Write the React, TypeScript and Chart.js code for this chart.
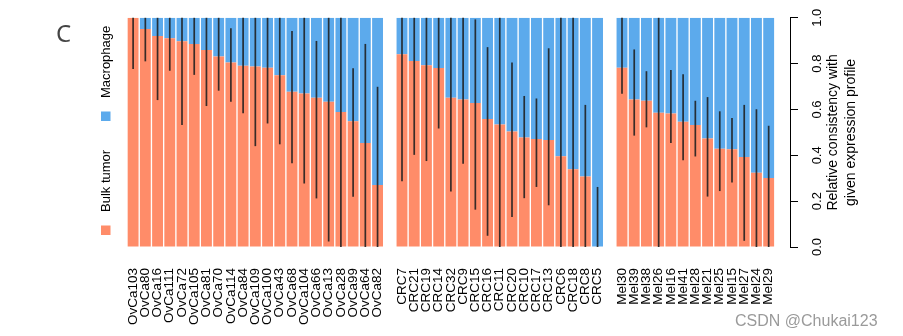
import React, { useEffect, useRef } from 'react';
import { Chart, registerables } from 'chart.js';

Chart.register(...registerables);

const ovcaLabels = ['OvCa103', 'OvCa80', 'OvCa16', 'OvCa111', 'OvCa72', 'OvCa105', 'OvCa81', 'OvCa70', 'OvCa114', 'OvCa84', 'OvCa109', 'OvCa100', 'OvCa43', 'OvCa68', 'OvCa104', 'OvCa66', 'OvCa13', 'OvCa28', 'OvCa99', 'OvCa64', 'OvCa82'];
const ovcaBulk = [1.0, 0.951, 0.921, 0.911, 0.898, 0.886, 0.859, 0.831, 0.805, 0.791, 0.788, 0.782, 0.749, 0.677, 0.67, 0.651, 0.634, 0.589, 0.549, 0.454, 0.271];
const ovcaMacro = [0.0, 0.049, 0.079, 0.089, 0.102, 0.114, 0.141, 0.169, 0.195, 0.209, 0.212, 0.218, 0.251, 0.323, 0.33, 0.349, 0.366, 0.411, 0.451, 0.546, 0.729];
const ovcaErrLow = [0.777, 0.81, 0.641, 0.769, 0.532, 0.751, 0.615, 0.682, 0.634, 0.584, 0.44, 0.539, 0.448, 0.365, 0.277, 0.212, 0.024, 0.0, 0.219, 0.0, 0.0];
const ovcaErrHigh = [1.0, 1.0, 1.0, 1.0, 1.0, 1.0, 1.0, 1.0, 0.954, 1.0, 1.0, 1.0, 1.0, 0.942, 1.0, 0.899, 1.0, 1.0, 0.78, 0.886, 0.699];

const crcLabels = ['CRC7', 'CRC21', 'CRC19', 'CRC14', 'CRC32', 'CRC9', 'CRC15', 'CRC16', 'CRC11', 'CRC20', 'CRC10', 'CRC17', 'CRC13', 'CRC6', 'CRC18', 'CRC8', 'CRC5'];
const crcBulk = [0.841, 0.811, 0.793, 0.781, 0.651, 0.644, 0.628, 0.558, 0.535, 0.504, 0.478, 0.471, 0.467, 0.396, 0.339, 0.308, 0.0];
const crcMacro = [0.159, 0.189, 0.207, 0.219, 0.349, 0.356, 0.372, 0.442, 0.465, 0.496, 0.522, 0.529, 0.533, 0.604, 0.661, 0.692, 1.0];
const crcErrLow = [0.287, 0.402, 0.375, 0.517, 0.242, 0.363, 0.163, 0.049, 0.0, 0.131, 0.213, 0.262, 0.182, 0.0, 0.0, 0.0, 0.0];
const crcErrHigh = [1.0, 1.0, 1.0, 1.0, 1.0, 1.0, 0.993, 0.872, 1.0, 0.805, 0.659, 0.648, 0.867, 1.0, 1.0, 0.62, 0.262];

const melLabels = ['Mel30', 'Mel39', 'Mel38', 'Mel26', 'Mel16', 'Mel41', 'Mel28', 'Mel21', 'Mel25', 'Mel15', 'Mel27', 'Mel24', 'Mel29'];
const melBulk = [0.782, 0.644, 0.638, 0.586, 0.582, 0.546, 0.532, 0.473, 0.429, 0.427, 0.393, 0.324, 0.301];
const melMacro = [0.218, 0.356, 0.362, 0.414, 0.418, 0.454, 0.468, 0.527, 0.571, 0.573, 0.607, 0.676, 0.699];
const melErrLow = [0.669, 0.486, 0.522, 0.0, 0.454, 0.379, 0.395, 0.22, 0.244, 0.281, 0.027, 0.0, 0.0];
const melErrHigh = [1.0, 0.862, 0.767, 1.0, 0.772, 0.754, 0.638, 0.654, 0.592, 0.563, 0.62, 0.601, 0.529];

const seriesNames = ['Bulk tumor', 'Macrophage'];
const seriesColors = ['#FF8C69', '#5CAAEC'];
const yTickValues = [0, 0.2, 0.4, 0.6, 0.8, 1.0];
const yTitle = ['Relative consistency with', 'given expression profile'];
const panelLetter = 'C';
const watermark = 'CSDN @Chukai123';

const FONT = '"Liberation Sans", Arial, Helvetica, sans-serif';

function joinGroups<T>(a: T[], b: T[], c: T[], gap: T): T[] {
  return [...a, gap, ...b, gap, ...c, gap];
}

const labels = joinGroups<string>(ovcaLabels, crcLabels, melLabels, '');
const bulkData = joinGroups<number | null>(ovcaBulk, crcBulk, melBulk, null);
const macroData = joinGroups<number | null>(ovcaMacro, crcMacro, melMacro, null);
const errLow = joinGroups<number | null>(ovcaErrLow, crcErrLow, melErrLow, null);
const errHigh = joinGroups<number | null>(ovcaErrHigh, crcErrHigh, melErrHigh, null);

const axisShiftPlugin = {
  id: 'axisShift',
  afterLayout(chart: any) {
    const ys = chart.scales.y;
    ys.left += 3;
    ys.right += 3;
  },
};

const errorBarPlugin = {
  id: 'errorBars',
  afterDatasetsDraw(chart: any) {
    const { ctx, scales } = chart;
    const xs = scales.x;
    const ys = scales.y;
    ctx.save();
    ctx.strokeStyle = 'rgba(30,30,30,0.88)';
    ctx.lineWidth = 1.7;
    for (let i = 0; i < errLow.length; i++) {
      const lo = errLow[i];
      const hi = errHigh[i];
      if (lo == null || hi == null) continue;
      const x = xs.getPixelForValue(i);
      ctx.beginPath();
      ctx.moveTo(x, ys.getPixelForValue(hi));
      ctx.lineTo(x, ys.getPixelForValue(lo));
      ctx.stroke();
    }
    ctx.restore();
  },
};

const decorPlugin = {
  id: 'decor',
  afterDraw(chart: any) {
    const { ctx, chartArea } = chart;
    ctx.save();
    // panel letter
    ctx.fillStyle = '#444';
    ctx.font = `24px "Noto Sans", "Open Sans", sans-serif`;
    ctx.textAlign = 'left';
    ctx.textBaseline = 'alphabetic';
    ctx.fillText(panelLetter, 56, 42);

    // rotated legend
    const legendStarts = [0, 114];
    chart.data.datasets.forEach((ds: any, i: number) => {
      ctx.save();
      ctx.translate(105.5, 235);
      ctx.rotate(-Math.PI / 2);
      const u = legendStarts[i];
      ctx.fillStyle = ds.backgroundColor;
      ctx.fillRect(u, -4.5, 9.5, 9.5);
      ctx.fillStyle = '#000';
      ctx.font = `13px ${FONT}`;
      ctx.textAlign = 'left';
      ctx.textBaseline = 'middle';
      ctx.fillText(ds.label, u + 23, 0.5);
      ctx.restore();
    });

    // y-axis title (reads bottom to top)
    ctx.save();
    ctx.translate(chart.scales.y.left + 52, (chartArea.top + chartArea.bottom) / 2);
    ctx.rotate(-Math.PI / 2);
    ctx.fillStyle = '#000';
    ctx.font = `14px ${FONT}`;
    ctx.textAlign = 'center';
    ctx.textBaseline = 'middle';
    ctx.fillText(yTitle[0], 0, -9);
    ctx.fillText(yTitle[1], 0, 9);
    ctx.restore();

    // watermark
    ctx.fillStyle = '#9a9a9a';
    ctx.font = `16px ${FONT}`;
    ctx.textAlign = 'left';
    ctx.textBaseline = 'alphabetic';
    ctx.fillText(watermark, 735, 326);
    ctx.restore();
  },
};

export default function App() {
  const canvasRef = useRef<HTMLCanvasElement | null>(null);

  useEffect(() => {
    const canvas = canvasRef.current;
    if (!canvas) return;
    const chart = new Chart(canvas, {
      type: 'bar',
      data: {
        labels,
        datasets: [
          {
            label: seriesNames[0],
            data: bulkData,
            backgroundColor: seriesColors[0],
            borderWidth: 0,
            barPercentage: 0.89,
            categoryPercentage: 1.0,
          },
          {
            label: seriesNames[1],
            data: macroData,
            backgroundColor: seriesColors[1],
            borderWidth: 0,
            barPercentage: 0.89,
            categoryPercentage: 1.0,
          },
        ],
      },
      options: {
        responsive: false,
        animation: false,
        devicePixelRatio: 1,
        layout: { padding: { left: 127, top: 16, right: 0, bottom: 0 } },
        plugins: {
          legend: { display: false },
          tooltip: { enabled: false },
          title: { display: false },
        },
        scales: {
          x: {
            type: 'category',
            stacked: true,
            grid: { display: false, drawTicks: false },
            border: { display: false },
            ticks: {
              autoSkip: false,
              minRotation: 90,
              maxRotation: 90,
              padding: 21,
              color: '#000',
              font: { family: FONT, size: 13.5 },
            },
            afterFit: (scale: any) => {
              scale.height = 89;
            },
          },
          y: {
            type: 'linear',
            position: 'right',
            stacked: true,
            min: 0,
            max: 1,
            afterBuildTicks: (scale: any) => {
              scale.ticks = yTickValues.map((v) => ({ value: v }));
            },
            grid: {
              display: true,
              drawOnChartArea: false,
              drawTicks: true,
              tickLength: 8,
              color: '#000',
              lineWidth: 1,
            },
            border: { display: true, color: '#000', width: 1 },
            ticks: {
              minRotation: 90,
              maxRotation: 90,
              crossAlign: 'center',
              padding: 10,
              color: '#000',
              font: { family: FONT, size: 13 },
              callback: (v: any) => Number(v).toFixed(1),
            },
            afterFit: (scale: any) => {
              scale.width = 116;
            },
          },
        },
      },
      plugins: [axisShiftPlugin, errorBarPlugin, decorPlugin],
    } as any);
    return () => chart.destroy();
  }, []);

  return (
    <div style={{ position: 'absolute', left: 0, top: 0, width: 903, height: 336, background: '#fff' }}>
      <canvas ref={canvasRef} width={903} height={336} style={{ display: 'block' }} />
    </div>
  );
}
